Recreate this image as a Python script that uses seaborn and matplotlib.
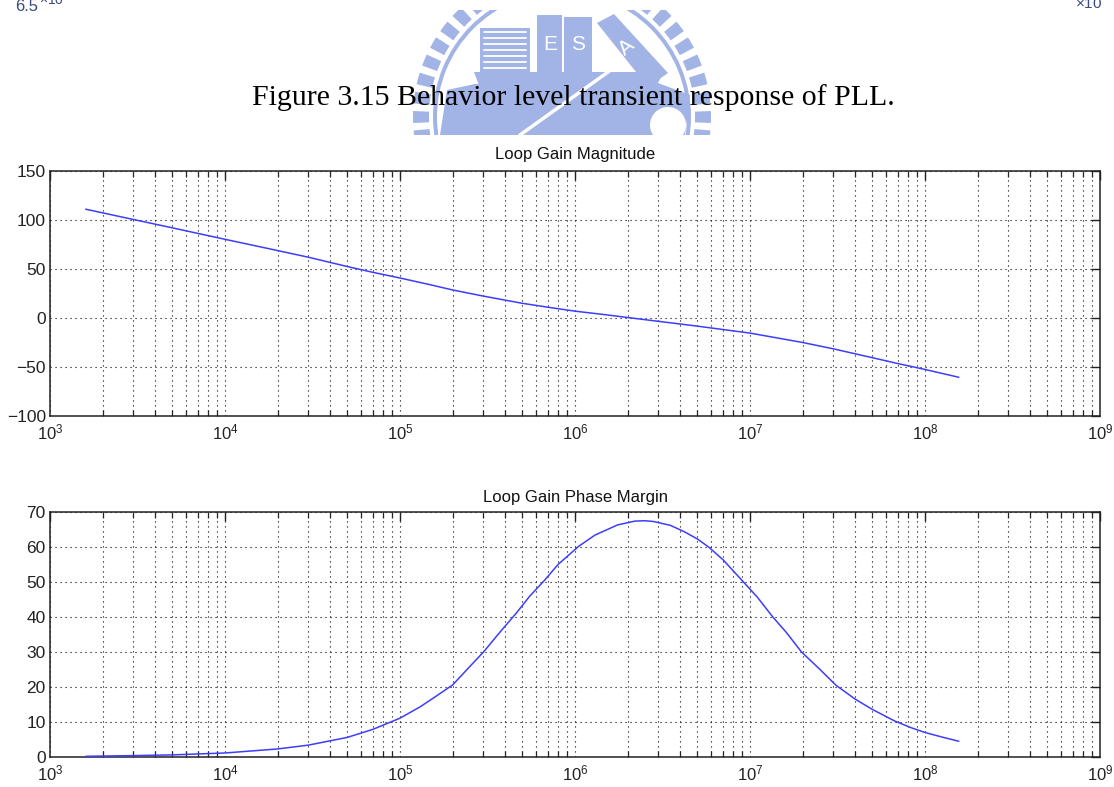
import numpy as np
import pandas as pd
import matplotlib
matplotlib.use("Agg")
import matplotlib.pyplot as plt
import seaborn as sns
from matplotlib.patches import Rectangle, Wedge, Polygon, Circle

# ---------------- data ----------------
mag_freq = [1.6e3, 3e3, 5e3, 1e4, 2e4, 3e4, 5e4, 7e4, 1e5, 1.5e5, 2e5,
            3e5, 5e5, 7e5, 1e6, 1.5e6, 2e6, 3e6, 5e6, 1e7, 2e7, 3e7,
            5e7, 7e7, 1e8, 1.56e8]
mag_db = [111, 100.5, 92, 80.3, 68.8, 62, 52.5, 46.6, 40.8, 33.8, 28.6,
          22.3, 15, 11, 7, 3.3, 0.5, -3.4, -8.3, -15.4, -25, -31.5,
          -40.5, -46.5, -52.5, -60.5]

ph_freq = [1.6e3, 3e3, 5e3, 1e4, 2e4, 3e4, 5e4, 7e4, 1e5, 1.3e5, 1.6e5,
           2e5, 2.5e5, 3e5, 3.7e5, 4.6e5, 5.5e5, 6.7e5, 8e5, 1.05e6,
           1.3e6, 1.75e6, 2.2e6, 2.5e6, 2.8e6, 3.5e6, 4.2e6, 5e6, 5.8e6,
           7e6, 9.1e6, 1.1e7, 1.35e7, 1.6e7, 1.97e7, 2.5e7, 3.1e7, 4e7,
           5e7, 6.7e7, 8.3e7, 1e8, 1.25e8, 1.56e8]
ph_deg = [0.2, 0.4, 0.6, 1.15, 2.3, 3.4, 5.6, 7.9, 11.1, 14.3, 17.3,
          20.6, 25.8, 30, 35.5, 41, 45.9, 50.5, 55, 60.2,
          63.4, 66.3, 67.4, 67.5, 67.3, 66.2, 64.4, 62.3, 60,
          56.4, 50.2, 45.7, 40, 35.8, 30, 25.1, 20.5, 16.5,
          13.6, 10.3, 8.4, 7.0, 5.7, 4.5]

x_ticks = [1e3, 1e4, 1e5, 1e6, 1e7, 1e8, 1e9]
x_ticklabels = [r"$10^{3}$", r"$10^{4}$", r"$10^{5}$", r"$10^{6}$",
                r"$10^{7}$", r"$10^{8}$", r"$10^{9}$"]
mag_yticks = [-100, -50, 0, 50, 100, 150]
ph_yticks = [0, 10, 20, 30, 40, 50, 60, 70]

caption = "Figure 3.15 Behavior level transient response of PLL."
title_top = "Loop Gain Magnitude"
title_bottom = "Loop Gain Phase Margin"

# ---------------- style ----------------
sns.set_theme(style="white")
plt.rcParams["font.family"] = ["Liberation Sans", "DejaVu Sans"]
plt.rcParams["mathtext.fontset"] = "custom"
plt.rcParams["mathtext.rm"] = "Liberation Sans"
plt.rcParams["mathtext.it"] = "Liberation Sans:italic"

W, H = 1114, 787
fig = plt.figure(figsize=(W / 100, H / 100), dpi=100)
fig.patch.set_facecolor("white")

# ---- faint watermark emblem behind the caption (page decoration) ----
wm = "#a2b3e6"
wax = fig.add_axes([0, 0, 1, 1], zorder=0)
wax.set_xlim(0, W)
wax.set_ylim(H, 0)
wax.axis("off")
clip = Rectangle((0, 10), W, 125, transform=wax.transData, visible=False)
wax.add_patch(clip)
cx, cy, R = 562, 117, 149
arts = []
for ang in np.arange(0, 360, 7.5):
    arts.append(wax.add_patch(Wedge((cx, cy), R, ang - 2.3, ang + 2.3,
                                    width=16, color=wm, lw=0)))
arts.append(wax.add_patch(Wedge((cx, cy), R - 20, 0, 360, width=4,
                                color=wm, lw=0)))
arts.append(wax.add_patch(Polygon([[447, 90], [475, 84], [530, 84], [570, 80],
                                   [650, 80], [690, 95], [685, 135],
                                   [440, 135]], closed=True, color=wm, lw=0)))
arts.append(wax.add_patch(Rectangle((480, 28), 50, 46, color=wm, lw=0)))
arts.append(wax.add_patch(Rectangle((537, 15), 25, 59, color=wm, lw=0)))
arts.append(wax.add_patch(Rectangle((564, 17), 28, 57, color=wm, lw=0)))
arts.append(wax.add_patch(Polygon([[597, 23], [614, 14], [668, 73], [648, 87]],
                                  closed=True, color=wm, lw=0)))
arts.append(wax.add_patch(Polygon([[474, 72], [664, 72], [655, 88], [480, 88]],
                                  closed=True, color=wm, lw=0)))
for yy in range(32, 72, 6):
    arts.append(wax.plot([484, 526], [yy, yy], color="white", lw=1.3)[0])
arts.append(wax.plot([520, 615], [135, 67], color="white", lw=2.5)[0])
arts.append(wax.add_patch(Circle((668, 125), 18, color="white", lw=0)))
for a in arts:
    a.set_clip_path(clip)
wax.text(550, 45, "E", color="white", fontsize=15, ha="center", va="center")
wax.text(578, 45, "S", color="white", fontsize=15, ha="center", va="center")
wax.text(627, 47, "A", color="white", fontsize=15, ha="center", va="center",
         rotation=40)

# clipped remnants of the previous figure at the page top
fig.text(15 / W, 1 - 11 / H, "6.5", fontsize=12, color="#3c4a7a",
         ha="left", va="baseline")
fig.text(39 / W, 1 - 4 / H, r"$\times$10", fontsize=10, color="#3c4a7a",
         ha="left", va="baseline")
fig.text(1075 / W, 1 - 8 / H, r"$\times$10", fontsize=11, color="#3c4a7a",
         ha="left", va="baseline")

fig.text(252 / W, 1 - 105 / H, caption, fontsize=21.5,
         family=["Liberation Serif", "DejaVu Serif"], ha="left",
         va="baseline", color="black", zorder=5)

ax1 = fig.add_axes([50 / W, 1 - 416 / H, 1050 / W, 245 / H], zorder=2)
ax2 = fig.add_axes([50 / W, 1 - 757 / H, 1050 / W, 245 / H], zorder=2)

df_mag = pd.DataFrame({"freq": mag_freq, "value": mag_db})
df_ph = pd.DataFrame({"freq": ph_freq, "value": ph_deg})

line_color = "#3d3dff"
sns.lineplot(data=df_mag, x="freq", y="value", ax=ax1, color=line_color,
             lw=1.1, zorder=3)
sns.lineplot(data=df_ph, x="freq", y="value", ax=ax2, color=line_color,
             lw=1.1, zorder=3)

for ax, yt, title, tpad in [(ax1, mag_yticks, title_top, 8.5),
                            (ax2, ph_yticks, title_bottom, 7.5)]:
    ax.set_xscale("log")
    ax.set_xlim(x_ticks[0], x_ticks[-1])
    ax.set_ylim(yt[0], yt[-1])
    ax.set_xticks(x_ticks)
    ax.set_xticklabels(x_ticklabels)
    ax.set_yticks(yt)
    ax.set_yticklabels([f"{v:g}".replace("-", "\u2212") for v in yt])
    ax.xaxis.set_minor_locator(matplotlib.ticker.LogLocator(base=10,
                               subs=np.arange(2, 10), numticks=100))
    ax.xaxis.set_minor_formatter(matplotlib.ticker.NullFormatter())
    ax.set_xlabel("")
    ax.set_ylabel("")
    ax.set_title(title, fontsize=12, pad=tpad, color="#111111")
    ax.tick_params(axis="both", which="major", direction="in", length=6.5,
                   width=1.0, top=True, right=True, colors="#222222")
    ax.tick_params(axis="y", which="major", labelsize=12.5, pad=3)
    ax.tick_params(axis="x", which="major", labelsize=12, pad=5)
    ax.tick_params(axis="x", which="minor", direction="in", length=4,
                   width=0.9, top=True, bottom=True)
    ax.grid(True, which="major", axis="both", color="black",
            linestyle=(0, (1, 3.5)), lw=0.8)
    ax.grid(True, which="minor", axis="x", color="black",
            linestyle=(0, (1, 3.5)), lw=0.8)
    for s in ax.spines.values():
        s.set_color("#222222")
        s.set_linewidth(1.1)
    ax.set_facecolor("white")

fig.savefig("out.png", dpi=100, facecolor="white")
